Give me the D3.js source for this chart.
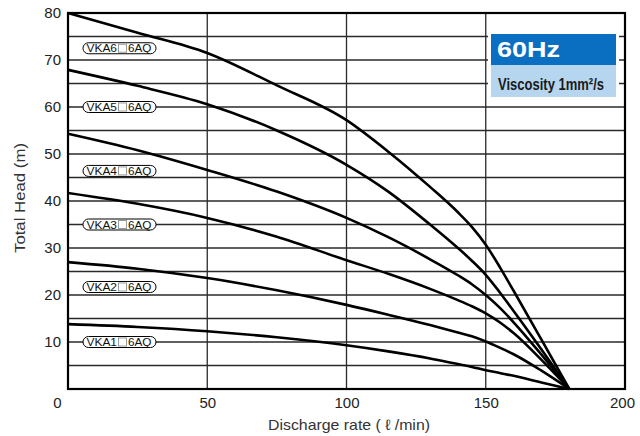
<!DOCTYPE html>
<html><head><meta charset="utf-8">
<script src="https://cdn.jsdelivr.net/npm/d3@7"></script>
<style>
html,body{margin:0;padding:0;background:#fff;}
svg{display:block;font-family:"Liberation Sans",Arial,Helvetica,sans-serif;}
</style></head>
<body>
<svg id="c" width="640" height="436"></svg>
<script>
// ---- data ----
const flow = [0, 25, 50, 75, 100, 115, 130, 140, 145, 150, 155, 160, 170, 180];
const models = ["VKA6", "VKA5", "VKA4", "VKA3", "VKA2", "VKA1"];
const headVKA6 = [80, 75.8, 71.5, 64.6, 57.2, 50.5, 43.0, 37.6, 34.5, 30.7, 26.0, 20.9, 10.5, 0];
const headVKA5 = [67.9, 64.5, 60.6, 55.0, 47.7, 42.0, 35.0, 30.0, 27.3, 24.3, 20.6, 16.6, 8.4, 0];
const headVKA4 = [54.3, 50.8, 46.6, 42.0, 36.4, 32.3, 27.6, 24.2, 22.3, 20.0, 17.3, 14.2, 7.3, 0];
const headVKA3 = [41.7, 39.4, 36.4, 32.4, 27.4, 24.5, 21.3, 18.9, 17.6, 16.1, 14.2, 11.9, 6.2, 0];
const headVKA2 = [27.0, 25.6, 23.6, 21.0, 17.9, 15.8, 13.6, 12.0, 11.2, 10.1, 8.8, 7.4, 3.9, 0];
const headVKA1 = [13.8, 13.2, 12.3, 11.0, 9.3, 8.0, 6.5, 5.3, 4.7, 4.0, 3.4, 2.8, 1.4, 0];
const labelHead = [72.5, 60, 46.4, 35, 21.7, 10];
const xTicks = [0, 50, 100, 150, 200];
const yTicks = [10, 20, 30, 40, 50, 60, 70, 80];
const yGrid = [5,10,15,20,25,30,35,40,45,50,55,60,65,70,75];
const xGrid = [50, 100, 150];
const series = [headVKA6, headVKA5, headVKA4, headVKA3, headVKA2, headVKA1];

// ---- chart ----
const svg = d3.select("#c");
const x = d3.scaleLinear().domain([0, 200]).range([68, 625]);
const y = d3.scaleLinear().domain([0, 80]).range([389, 13]);

const grid = svg.append("g").attr("stroke", "#2a2a2a").attr("stroke-width", 1.3);
grid.selectAll("line.h").data(yGrid).join("line").attr("class","h")
  .attr("x1", x(0)).attr("x2", x(200)).attr("y1", d => y(d)).attr("y2", d => y(d));
grid.selectAll("line.v").data(xGrid).join("line").attr("class","v")
  .attr("y1", y(0)).attr("y2", y(80)).attr("x1", d => x(d)).attr("x2", d => x(d));

// legend box
svg.append("rect").attr("x", 488).attr("y", 31).attr("width", 131).attr("height", 70).attr("fill", "#fff");
svg.append("rect").attr("x", 491).attr("y", 34).attr("width", 125).attr("height", 31).attr("fill", "#0a6fc0");
svg.append("rect").attr("x", 491).attr("y", 65).attr("width", 125).attr("height", 32).attr("fill", "#b6d5ef");
svg.append("text").attr("x", 497).attr("y", 57).attr("fill", "#fff")
  .attr("font-size", 22.5).attr("font-weight", "bold")
  .attr("textLength", 63).attr("lengthAdjust", "spacingAndGlyphs").text("60Hz");
svg.append("text").attr("x", 498).attr("y", 89.5).attr("fill", "#1a1a1a").attr("font-weight", "bold")
  .attr("font-size", 16).attr("textLength", 106).attr("lengthAdjust", "spacingAndGlyphs")
  .text("Viscosity 1mm\u00B2/s");

// curves
const line = d3.line().x((d, i) => x(flow[i])).y(d => y(d)).curve(d3.curveMonotoneX);
svg.append("g").selectAll("path").data(series).join("path")
  .attr("d", d => line(d)).attr("fill", "none").attr("stroke", "#000")
  .attr("stroke-width", 2.6).attr("stroke-linejoin", "round");

// curve labels
const lg = svg.append("g").selectAll("g").data(models).join("g")
  .attr("transform", (d, i) => `translate(83,${y(labelHead[i])})`);
lg.append("rect").attr("x", 0).attr("y", -5.5).attr("width", 73).attr("height", 11)
  .attr("rx", 5.5).attr("fill", "#fff").attr("stroke", "#000").attr("stroke-width", 1);
lg.append("text").attr("x", 3.5).attr("y", 4).attr("font-size", 11)
  .attr("textLength", 30.5).attr("lengthAdjust", "spacingAndGlyphs").attr("fill", "#111").text(d => d);
lg.append("rect").attr("x", 35.5).attr("y", -4).attr("width", 8).attr("height", 8)
  .attr("fill", "#fff").attr("stroke", "#9a9a9a").attr("stroke-width", 1);
lg.append("text").attr("x", 45).attr("y", 4).attr("font-size", 11)
  .attr("textLength", 23.5).attr("lengthAdjust", "spacingAndGlyphs").attr("fill", "#111").text("6AQ");

// frame
svg.append("rect").attr("x", x(0)).attr("y", y(80)).attr("width", x(200) - x(0)).attr("height", y(0) - y(80))
  .attr("fill", "none").attr("stroke", "#000").attr("stroke-width", 2.2);

// axes
const ya = svg.append("g").attr("transform", `translate(${x(0)},0)`)
  .call(d3.axisLeft(y).tickValues(yTicks).tickSize(0).tickPadding(7));
ya.select(".domain").remove();
ya.selectAll("text").attr("font-size", 15).attr("fill", "#222").attr("font-family", "Liberation Sans, Arial, sans-serif");

const xa = svg.append("g").attr("transform", `translate(0,${y(0)})`)
  .call(d3.axisBottom(x).tickValues(xTicks).tickSize(0).tickPadding(8));
xa.select(".domain").remove();
xa.selectAll("text").attr("font-size", 15).attr("fill", "#222").attr("font-family", "Liberation Sans, Arial, sans-serif")
  .attr("dx", d => d === 0 ? -11 : (d === 200 ? -3 : 0));

svg.append("text").attr("transform", "translate(25,198) rotate(-90)").attr("text-anchor", "middle")
  .attr("font-size", 15).attr("fill", "#333").attr("textLength", 110).attr("lengthAdjust", "spacingAndGlyphs")
  .text("Total Head (m)");
svg.append("text").attr("x", 349).attr("y", 430).attr("text-anchor", "middle")
  .attr("font-size", 15).attr("fill", "#333").attr("textLength", 162).attr("lengthAdjust", "spacingAndGlyphs")
  .text("Discharge rate ( \u2113 /min)");
</script>
</body></html>
